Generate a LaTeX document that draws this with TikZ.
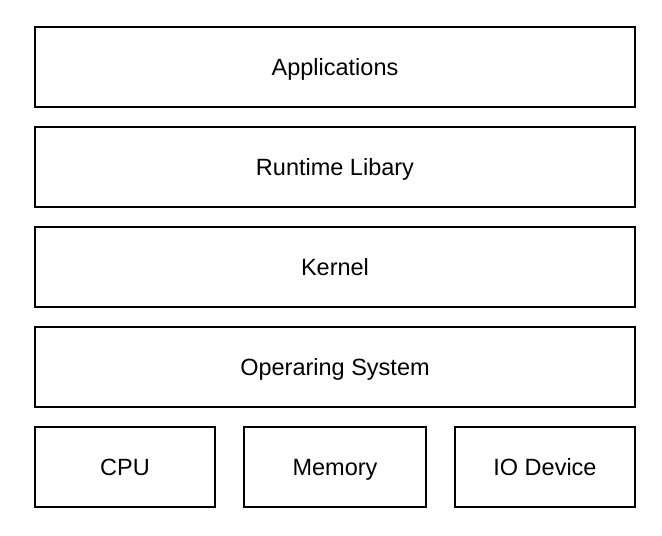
\documentclass[tikz,border=0pt]{standalone}
\usepackage{fontspec}
\setmainfont{Liberation Sans}
\begin{document}
\begin{tikzpicture}[x=1pt,y=-1pt,
layer/.style={draw,line width=1.6pt,minimum height=80pt,inner sep=0pt,text height=16.9pt,text depth=0pt,font=\fontsize{23.5}{28}\selectfont}]
\useasboundingbox (0,0) rectangle (662,536);
\node[layer,minimum width=600pt] (app) at (335,67) {Applications};
\node[layer,minimum width=600pt] (rtl) at (335,167) {Runtime Libary};
\node[layer,minimum width=600pt] (krn) at (335,267) {Kernel};
\node[layer,minimum width=600pt] (os) at (335,367) {Operaring System};
\node[layer,minimum width=180pt] (cpu) at (125,467) {CPU};
\node[layer,minimum width=182pt] (mem) at (335,467) {Memory};
\node[layer,minimum width=180pt] (io) at (545,467) {IO Device};
\end{tikzpicture}
\end{document}
